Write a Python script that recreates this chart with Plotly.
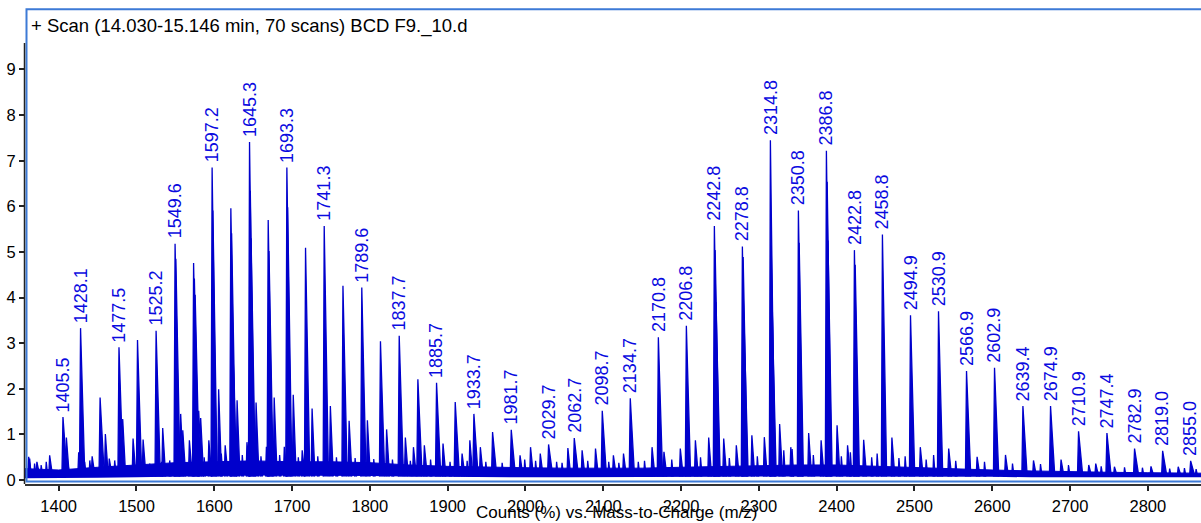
import plotly.graph_objects as go

# ---- spectrum data: m/z versus relative counts (%) ----
# annotated peak apexes
peak_mz = [1405.5, 1428.1, 1477.5, 1525.2, 1549.6, 1597.2, 1645.3, 1693.3, 1741.3,
           1789.6, 1837.7, 1885.7, 1933.7, 1981.7, 2029.7, 2062.7, 2098.7, 2134.7,
           2170.8, 2206.8, 2242.8, 2278.8, 2314.8, 2350.8, 2386.8, 2422.8, 2458.8,
           2494.9, 2530.9, 2566.9, 2602.9, 2639.4, 2674.9, 2710.9, 2747.4, 2782.9,
           2819.0, 2855.0]
peak_counts = [1.38, 3.33, 2.91, 3.27, 5.18, 6.85, 7.41, 6.85, 5.57,
               4.22, 3.16, 2.13, 1.45, 1.10, 0.78, 0.92, 1.52, 1.79,
               3.13, 3.38, 5.57, 5.12, 7.45, 5.91, 7.22, 5.04, 5.38,
               3.61, 3.70, 2.39, 2.46, 1.62, 1.62, 1.07, 1.03, 0.69,
               0.64, 0.42]
peak_labels = [f"{m:.1f}" for m in peak_mz]

# unannotated series peaks
series_mz = [1453.2, 1501.3, 1573.4, 1621.3, 1669.3, 1717.3, 1765.4, 1813.6,
             1861.7, 1909.7, 1957.7]
series_counts = [1.81, 3.07, 4.76, 5.96, 5.70, 5.09, 4.26, 3.04,
                 2.21, 1.71, 1.05]

# isotope shoulders beside the strongest peaks
shoulder_mz = [1550.6, 1574.4, 1575.4, 1598.2, 1622.3, 1623.3, 1646.3, 1647.3,
               1670.3, 1694.3, 2243.8, 2244.8, 2279.8, 2280.8, 2315.8, 2316.8,
               2351.8, 2387.8, 2388.8, 2423.8]
shoulder_counts = [4.85, 4.42, 4.06, 5.91, 5.41, 3.26, 6.34, 5.30,
                   5.02, 5.98, 5.04, 3.90, 4.89, 3.57, 5.14, 3.98,
                   5.20, 6.54, 5.25, 4.72]

# minor peaks between the main series
minor_mz = [1361.4, 1372.0, 1388.4, 1409.9, 1425.7, 1443.0, 1460.0, 1465.0,
            1482.3, 1495.6, 1508.5, 1533.7, 1556.8, 1559.5, 1568.0, 1580.0,
            1582.5, 1593.0, 1605.6, 1614.0, 1629.3, 1642.0, 1653.7, 1667.0,
            1677.0, 1690.0, 1701.5, 1713.0, 1725.7, 1749.2, 1773.3, 1796.8,
            1821.5, 1845.6, 1856.0, 1870.0, 1894.0, 1918.5, 1928.5, 1942.0,
            1993.0, 2006.5, 2019.0, 2054.5, 2072.8, 2090.0, 2113.0, 2126.0,
            2162.7, 2178.0, 2199.0, 2218.4, 2235.5, 2254.8, 2271.0, 2291.0,
            2307.0, 2326.7, 2341.0, 2364.0, 2380.0, 2400.5, 2414.0, 2434.7,
            2471.0, 2507.5, 2544.0, 2580.5, 2617.0, 2653.0, 2688.4, 2724.0,
            2733.0, 2757.0, 2804.0, 2839.0]
minor_counts = [0.51, 0.40, 0.54, 0.93, 0.61, 0.52, 1.01, 0.47,
                1.34, 0.91, 0.89, 1.14, 1.45, 1.09, 0.87, 1.52,
                1.36, 0.87, 1.99, 0.76, 1.75, 0.83, 1.70, 0.73,
                1.81, 0.73, 1.87, 0.65, 1.57, 1.62, 1.30, 1.31,
                1.11, 0.93, 0.72, 0.76, 0.80, 0.58, 0.87, 0.72,
                0.54, 0.72, 0.58, 0.70, 0.65, 0.69, 0.54, 0.58,
                0.72, 0.62, 0.69, 0.87, 0.93, 0.91, 0.76, 0.98,
                0.94, 1.23, 0.72, 1.03, 0.87, 1.20, 0.76, 0.88,
                0.93, 0.72, 0.69, 0.51, 0.55, 0.43, 0.45, 0.33,
                0.36, 0.29, 0.30, 0.29]

# small noise spikes riding on the baseline
noise_spike_mz = [1362.7, 1369.0, 1377.5, 1384.0, 1412.0, 1433.4, 1440.0, 1467.7,
                  1472.0, 1517.0, 1532.0, 1542.7, 1587.0, 1609.0, 1636.0, 1660.0,
                  1684.0, 1708.0, 1733.0, 1757.0, 1781.0, 1805.0, 1829.0, 1852.0,
                  1878.0, 1903.0, 1925.0, 1949.0, 1970.0, 1999.0, 2013.0, 2040.0,
                  2047.0, 2080.0, 2107.0, 2120.0, 2145.0, 2153.0, 2188.0, 2225.0,
                  2262.0, 2298.0, 2332.0, 2342.7, 2370.0, 2406.0, 2417.6, 2445.0,
                  2452.0, 2480.0, 2488.0, 2515.0, 2524.6, 2553.0, 2590.0, 2626.0,
                  2662.0, 2698.0, 2740.0, 2770.0, 2793.0, 2828.0, 2847.0, 2862.0]
noise_spike_counts = [0.47, 0.36, 0.33, 0.40, 0.36, 0.40, 0.43, 0.30,
                      0.43, 0.36, 0.40, 0.43, 0.50, 0.58, 0.55, 0.52,
                      0.55, 0.50, 0.52, 0.50, 0.48, 0.46, 0.45, 0.42,
                      0.45, 0.40, 0.42, 0.40, 0.38, 0.45, 0.42, 0.40,
                      0.38, 0.42, 0.40, 0.38, 0.40, 0.42, 0.45, 0.50,
                      0.48, 0.52, 0.65, 0.68, 0.55, 0.52, 0.61, 0.50,
                      0.58, 0.48, 0.52, 0.45, 0.55, 0.42, 0.40, 0.36,
                      0.35, 0.33, 0.30, 0.28, 0.27, 0.25, 0.26, 0.24]

# chemical-noise band (lower and upper envelope)
noise_mz = [1356, 1400, 1450, 1500, 1550, 1600, 1650, 1700, 1750, 1800, 1850,
            1900, 1950, 2000, 2050, 2100, 2150, 2200, 2250, 2300, 2350, 2400,
            2450, 2500, 2550, 2600, 2650, 2700, 2750, 2800, 2870]
noise_lo = [0.04, 0.04, 0.05, 0.06, 0.08, 0.09, 0.10, 0.10, 0.10, 0.09, 0.08,
            0.07, 0.06, 0.06, 0.06, 0.06, 0.06, 0.07, 0.07, 0.08, 0.08, 0.08,
            0.08, 0.07, 0.07, 0.07, 0.06, 0.06, 0.06, 0.06, 0.06]
noise_hi = [0.25, 0.22, 0.28, 0.33, 0.38, 0.40, 0.42, 0.40, 0.40, 0.38, 0.33,
            0.30, 0.28, 0.27, 0.26, 0.26, 0.26, 0.28, 0.30, 0.32, 0.33, 0.33,
            0.30, 0.28, 0.25, 0.22, 0.20, 0.18, 0.17, 0.16, 0.15]

x_ticks = list(range(1400, 2801, 100))
y_ticks = list(range(0, 10))

TRACE_BLUE = "#0000cc"
LABEL_BLUE = "#0a0ae0"
FRAME_BLUE = "#3d7ad6"
FONT = "Liberation Sans, Arial, sans-serif"

# profile geometry of one centroid spike (m/z offsets)
RISE, TAIL, FOOT = 1.4, 5.5, 0.08


def spikes(mzs, heights, rise=RISE, tail=TAIL):
    xs, ys = [], []
    for m, h in zip(mzs, heights):
        xs += [m - rise, m, m + tail, None]
        ys += [FOOT, h, FOOT, None]
    return xs, ys


fig = go.Figure()

fig.add_trace(go.Scatter(x=noise_mz, y=noise_lo, mode="lines",
                         line=dict(color=TRACE_BLUE, width=0), hoverinfo="skip"))
fig.add_trace(go.Scatter(x=noise_mz, y=noise_hi, mode="lines", fill="tonexty",
                         fillcolor=TRACE_BLUE, line=dict(color=TRACE_BLUE, width=1),
                         hoverinfo="skip"))

layers = [(noise_spike_mz, noise_spike_counts, 1.0, 2.0),
          (minor_mz, minor_counts, 1.2, 3.8),
          (shoulder_mz, shoulder_counts, RISE, TAIL),
          (series_mz, series_counts, RISE, TAIL),
          (peak_mz, peak_counts, RISE, TAIL)]
for mzs, hs, rise, tail in layers:
    xs, ys = spikes(mzs, hs, rise, tail)
    fig.add_trace(go.Scatter(x=xs, y=ys, mode="lines", fill="toself",
                             fillcolor=TRACE_BLUE,
                             line=dict(color=TRACE_BLUE, width=1.3),
                             connectgaps=False, hoverinfo="skip"))

for m, h, lbl in zip(peak_mz, peak_counts, peak_labels):
    fig.add_annotation(x=m, y=h, text=lbl, textangle=-90, showarrow=False,
                       xanchor="center", yanchor="bottom", yshift=3,
                       font=dict(family=FONT, size=18, color=LABEL_BLUE))

W, H = 1201, 523
L, R, T, B = 25, 0, 9, 39
pw, ph = W - L - R, H - T - B


def px_x(px):
    return (px - L) / pw


def px_y(py):
    return (H - B - py) / ph


# scan title
fig.add_annotation(xref="paper", yref="paper", x=px_x(28.5), y=px_y(26),
                   xanchor="left", yanchor="middle", showarrow=False,
                   text="+ Scan (14.030-15.146 min, 70 scans) BCD F9._10.d",
                   font=dict(family=FONT, size=18.5, color="black"))

# x-axis caption
fig.add_annotation(xref="paper", yref="paper", x=px_x(616.7), y=px_y(512.5),
                   xanchor="center", yanchor="middle", showarrow=False,
                   text="Counts (%) vs. Mass-to-Charge (m/z)",
                   font=dict(family=FONT, size=17, color="black"))

# panel frame and y-axis spine
fig.add_shape(type="rect", xref="paper", yref="paper",
              x0=px_x(26.5), x1=1.02, y0=px_y(481.5), y1=px_y(9.2),
              line=dict(color=FRAME_BLUE, width=2), fillcolor="rgba(0,0,0,0)",
              layer="above")
fig.add_shape(type="line", xref="paper", yref="paper",
              x0=px_x(24.5), x1=px_x(24.5), y0=0, y1=px_y(43),
              line=dict(color="#222222", width=1.5), layer="above")

fig.update_layout(
    width=W, height=H,
    margin=dict(l=L, r=R, t=T, b=B, pad=0),
    paper_bgcolor="white", plot_bgcolor="white",
    showlegend=False,
    font=dict(family=FONT, color="black"),
    xaxis=dict(range=[1356.7, 2868.3], tickvals=x_ticks,
               ticktext=[str(v) for v in x_ticks],
               ticks="outside", ticklen=5, tickwidth=1.5, tickcolor="#222222",
               showline=True, linecolor="#333333", linewidth=1.5,
               showgrid=False, zeroline=False, ticklabelstandoff=1,
               tickfont=dict(family=FONT, size=16.5, color="black")),
    yaxis=dict(range=[-0.087, 10.326], tickvals=y_ticks,
               ticktext=[str(v) for v in y_ticks],
               ticks="outside", ticklen=5, tickwidth=1.5, tickcolor="#222222",
               showline=False, showgrid=False, zeroline=False,
               tickfont=dict(family=FONT, size=16.5, color="black")),
)

fig.write_html("out.html")
